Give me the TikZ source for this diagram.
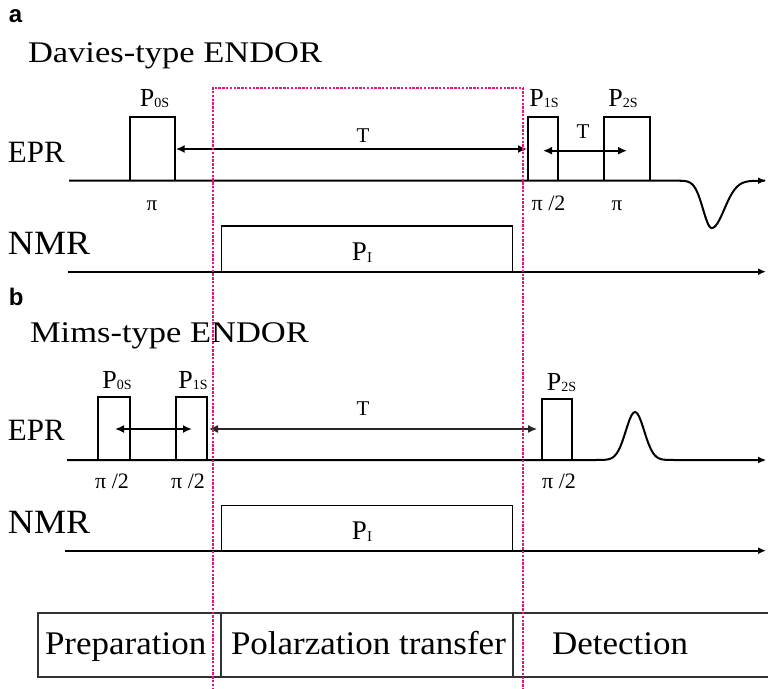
\documentclass[tikz,border=0pt]{standalone}
\usepackage{fontspec}
\setmainfont{Liberation Serif}
\newfontfamily\hdrfont{Liberation Serif}[FakeStretch=1.15]
\newfontfamily\labfont{Liberation Serif}[FakeStretch=1.06]
\newfontfamily\tagfont{Liberation Sans}
\usetikzlibrary{arrows.meta}
\newcommand\myfs[1]{\fontsize{#1}{#1}\selectfont}
\newcommand\plab[1]{{\myfs{26}P}\raisebox{-1pt}{\myfs{14}#1}}
\newcommand\pIlab{{\myfs{27}P}\raisebox{-2.5pt}{\myfs{15}I}}
\definecolor{dashpink}{RGB}{230,20,120}
\definecolor{boxgray}{RGB}{50,50,50}
\begin{document}
\begin{tikzpicture}[x=1pt,y=-1pt,
  txt/.style={inner sep=0pt,outer sep=0pt,anchor=base west},
  ctxt/.style={inner sep=0pt,outer sep=0pt,anchor=base},
  axisline/.style={line width=2pt,-{Latex[length=8pt,width=7pt]}},
  pulseline/.style={line width=1.5pt,line join=miter},
  tarrow/.style={line width=2pt,{Latex[length=9pt,width=8pt]}-{Latex[length=9pt,width=8pt]}},
  tarrowthin/.style={line width=1.3pt,draw=black!85,{Latex[length=9pt,width=8pt]}-{Latex[length=9pt,width=8pt]}},
  pinkdash/.style={draw=dashpink,line width=2pt,dash pattern=on 2.4pt off 1.4pt},
  boxline/.style={draw=boxgray,line width=1.6pt}]
\useasboundingbox (0,0) rectangle (768,688);

% ---------- panel a ----------
\node[txt,font=\tagfont\bfseries\myfs{24}] (taga) at (9,23) {a};
\node[txt,font=\hdrfont\myfs{30}] (hdra) at (28,62.7) {Davies-type ENDOR};
\node[txt,font=\myfs{31}] (epra) at (8,162.7) {EPR};
\node[txt,font=\labfont\myfs{34}] (nmra) at (8,254.3) {NMR};

% EPR axis with echo dip
\coordinate (aE0) at (69,180.7);
\draw[axisline] (aE0) -- (680,180.7)
  -- plot[domain=680:711.7,samples=40] (\x,{180.7+47.3*exp(-((\x-711.7)/8.6)^2/2)})
  -- plot[domain=711.7:766,samples=70] (\x,{180.7+47.3*exp(-((\x-711.7)/12.5)^2/2)});
% pulses
\draw[pulseline] (130,180.7) -- (130,117) -- (175,117) -- (175,180.7);
\draw[pulseline] (528,180.7) -- (528,117) -- (558,117) -- (558,180.7);
\draw[pulseline] (604,180.7) -- (604,117) -- (650,117) -- (650,180.7);
\node[ctxt] (a0s) at (154.5,106) {\plab{0S}};
\node[ctxt] (a1s) at (544,106) {\plab{1S}};
\node[ctxt] (a2s) at (623,106) {\plab{2S}};
% T arrows
\coordinate (aT1) at (175.7,149);
\coordinate (aT2) at (527,149);
\draw[tarrow] (aT1) -- (aT2);
\node[ctxt,font=\myfs{21}] (aTl) at (363,142) {T};
\coordinate (aS1) at (543,150.7);
\coordinate (aS2) at (627,150.7);
\draw[tarrow] (aS1) -- (aS2);
\node[ctxt,font=\myfs{21}] (aSl) at (583,138) {T};
% flip angles
\node[ctxt,font=\myfs{21}] (api0) at (152,210) {π};
\node[ctxt,font=\myfs{22}] (api1) at (548.5,210) {π /2};
\node[ctxt,font=\myfs{21}] (api2) at (617,210) {π};
% NMR
\coordinate (aN0) at (68,271.7);
\coordinate (aN1) at (766,271.7);
\draw[axisline] (aN0) -- (aN1);
\draw[pulseline] (221.7,271.7) -- (221.7,226) -- (512.7,226) -- (512.7,271.7);
\node[ctxt] (aPI) at (362,260) {\pIlab};

% ---------- panel b ----------
\node[txt,font=\tagfont\bfseries\myfs{24}] (tagb) at (9,305) {b};
\node[txt,font=\hdrfont\myfs{30}] (hdrb) at (30,342.7) {Mims-type ENDOR};
\node[txt,font=\myfs{31}] (eprb) at (8,440.5) {EPR};
\node[txt,font=\labfont\myfs{34}] (nmrb) at (8,533.3) {NMR};

\coordinate (bE0) at (67,460);
\draw[axisline] (bE0) -- (595,460)
  -- plot[domain=595:766,samples=90] (\x,{460-48*exp(-((\x-635)/9.2)^2/2)});
\draw[pulseline] (98,460) -- (98,397) -- (130,397) -- (130,460);
\draw[pulseline] (176,460) -- (176,397) -- (207,397) -- (207,460);
\draw[pulseline] (542,460) -- (542,399) -- (572,399) -- (572,460);
\node[ctxt] (b0s) at (117,388) {\plab{0S}};
\node[ctxt] (b1s) at (193,388) {\plab{1S}};
\node[ctxt] (b2s) at (561.5,390) {\plab{2S}};
\coordinate (bS1) at (115,429);
\coordinate (bS2) at (192,429);
\draw[tarrow] (bS1) -- (bS2);
\coordinate (bT1) at (209,429);
\coordinate (bT2) at (537,429);
\draw[tarrowthin] (bT1) -- (bT2);
\node[ctxt,font=\myfs{21}] (bTl) at (363,415) {T};
\node[ctxt,font=\myfs{22}] (bpi0) at (112,488) {π /2};
\node[ctxt,font=\myfs{22}] (bpi1) at (188,488) {π /2};
\node[ctxt,font=\myfs{22}] (bpi2) at (559,488) {π /2};
\coordinate (bN0) at (65,550.7);
\coordinate (bN1) at (766,550.7);
\draw[axisline] (bN0) -- (bN1);
\draw[pulseline] (221.7,550.7) -- (221.7,505.7) -- (512.7,505.7) -- (512.7,550.7);
\node[ctxt] (bPI) at (362,539) {\pIlab};

% ---------- phase box ----------
\draw[boxline] (768,613) -- (38,613) -- (38,677) -- (768,677);
\draw[boxline,line width=2pt] (38,677) -- (768,677);
\draw[boxline] (221,613) -- (221,677);
\draw[boxline] (512.7,613) -- (512.7,677);
\node[txt,font=\labfont\myfs{33}] (prep) at (45,654) {Preparation};
\node[txt,font=\labfont\myfs{33}] (pol) at (231,654) {Polarzation transfer};
\node[txt,font=\labfont\myfs{33}] (det) at (552,654) {Detection};

% ---------- dashed window ----------
\draw[pinkdash] (212.5,690) -- (212.5,88) -- (523,88) -- (523,690);
\end{tikzpicture}
\end{document}
